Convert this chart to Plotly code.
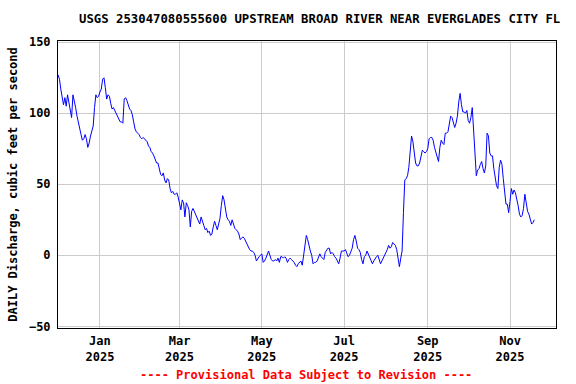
import pandas as pd
import plotly.graph_objects as go

start_date = "2024-12-01"
discharge = [
    127,124,117,112,106,111,105,113,108,103,
    97,113,109,104,98,93,89,85,81,82,
    85,82,76,79,84,87,91,104,113,111,
    112,115,117,124,125,118,110,113,112,107,
    103,104,102,101,99,96,94,94,93,110,
    111,109,105,103,102,99,94,89,87,86,
    85,83,82,83,82,81,80,77,76,73,
    72,70,68,65,65,61,57,56,58,53,
    51,54,53,47,44,45,43,43,44,41,
    35,32,39,37,27,37,35,32,20,31,
    33,31,29,27,25,22,27,23,21,18,
    19,16,17,14,15,20,24,21,18,22,
    26,35,42,39,32,27,25,24,21,25,
    22,19,18,17,15,11,12,13,12,10,
    8,5,4,3,3,2,0,-4,-2,-1,
    0,1,-5,-4,-2,1,3,0,-3,-4,
    -4,-3,-4,-2,-5,-1,-1,-2,-1,-2,
    -5,-3,-2,-3,-4,-5,-7,-8,-6,-5,
    -4,-7,-1,6,14,11,6,3,0,-6,
    -5,-5,-4,-1,1,-1,-2,-3,2,4,
    5,5,1,2,1,-1,-2,-4,-6,-2,
    3,3,3,4,2,-1,0,2,5,11,
    14,10,5,4,2,-3,-6,-1,0,3,
    1,-2,-4,-6,-4,-2,-1,0,-3,-6,
    -4,-2,-1,2,4,7,5,6,9,8,
    7,4,-3,-8,-2,3,30,53,54,56,
    62,75,84,80,70,65,63,63,65,71,
    74,73,72,73,75,82,83,83,81,76,
    73,69,66,76,81,79,78,86,86,87,
    93,98,97,93,90,93,98,108,114,106,
    101,101,100,102,95,93,97,104,88,69,
    56,60,61,64,66,61,58,63,86,84,
    72,70,70,61,54,49,47,62,67,64,
    54,44,36,36,30,38,47,43,46,44,
    40,35,29,27,28,33,43,36,31,29,
    26,22,23,25,
]
dates = pd.date_range(start_date, periods=len(discharge), freq="D")

x_tick_vals = ["2025-01-01", "2025-03-01", "2025-05-01", "2025-07-01", "2025-09-01", "2025-11-01"]
x_tick_text = ["Jan<br>2025", "Mar<br>2025", "May<br>2025", "Jul<br>2025", "Sep<br>2025", "Nov<br>2025"]
y_tick_vals = [-50, 0, 50, 100, 150]

title_text = "USGS 253047080555600 UPSTREAM BROAD RIVER NEAR EVERGLADES CITY FL"
y_label = "DAILY Discharge, cubic feet per second"
footer_text = "---- Provisional Data Subject to Revision ----"

FONT = "DejaVu Sans Mono"

fig = go.Figure()
fig.add_trace(go.Scatter(x=dates, y=discharge, mode="lines",
                         line=dict(color="#0000ff", width=1), hoverinfo="x+y"))

fig.update_layout(
    width=576, height=384,
    margin=dict(l=58, r=20, t=41, b=56),
    paper_bgcolor="white", plot_bgcolor="white",
    showlegend=False,
    font=dict(family=FONT, size=12, color="black", weight="bold"),
)
fig.update_xaxes(
    range=["2024-11-30 22:00", "2025-12-05 02:00"],
    tickvals=x_tick_vals, ticktext=x_tick_text,
    showgrid=True, gridcolor="#cccccc", gridwidth=1,
    showline=True, linecolor="black", linewidth=1, mirror=True,
    ticks="", zeroline=False, ticklabelstandoff=2,
    tickfont=dict(family=FONT, size=12, color="black", weight="bold"),
)
fig.update_yaxes(
    range=[-51.2, 150.9],
    tickvals=y_tick_vals,
    showgrid=True, gridcolor="#cccccc", gridwidth=1,
    showline=True, linecolor="black", linewidth=1, mirror=True,
    ticks="", zeroline=False, ticklabelstandoff=4,
    tickfont=dict(family=FONT, size=12, color="black", weight="bold"),
    title=dict(text=y_label, standoff=8,
               font=dict(family=FONT, size=12, color="black", weight="bold")),
)
fig.add_annotation(text=title_text, xref="paper", yref="paper",
                   x=(319.5 - 58) / 498, y=1, yshift=22, showarrow=False,
                   xanchor="center", yanchor="middle",
                   font=dict(family=FONT, size=12.3, color="black", weight="bold"))
fig.add_annotation(text=footer_text, xref="paper", yref="paper",
                   x=(305.5 - 58) / 498, y=0, yshift=-47, showarrow=False,
                   xanchor="center", yanchor="middle",
                   font=dict(family=FONT, size=12, color="#ff0000", weight="bold"))

fig.write_html("out.html", config={"displayModeBar": False},
               post_script="document.body.style.margin='0';document.body.style.overflow='hidden';")
